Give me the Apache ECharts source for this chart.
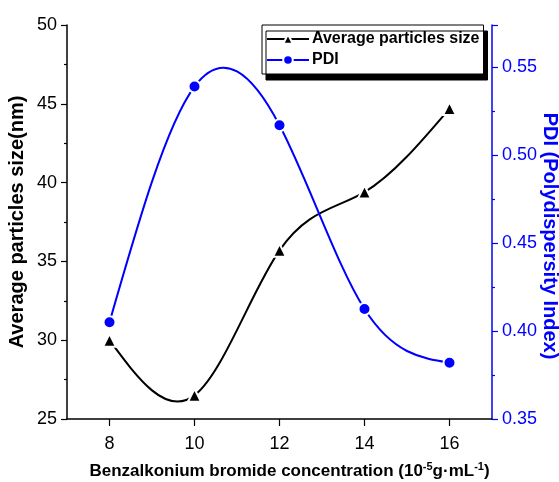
<!DOCTYPE html>
<html>
<head>
<meta charset="utf-8">
<script src="https://cdn.jsdelivr.net/npm/echarts@6/dist/echarts.min.js"></script>
<style>html,body{margin:0;padding:0;background:#fff}#c{width:559px;height:482px}</style>
</head>
<body>
<div id="c"></div>
<script>
// ---- data ----
var concentrations = [8, 10, 12, 14, 16];
var avgSize = [30.0, 26.5, 35.7, 39.4, 44.7];
var pdi = [0.405, 0.539, 0.517, 0.4125, 0.382];
var xTicks = [8, 10, 12, 14, 16];
var seriesNames = ['Average particles size', 'PDI'];

var FONT = '"Liberation Sans", Arial, sans-serif';
var chart = echarts.init(document.getElementById('c'), null, {renderer: 'canvas'});

function pairs(xs, ys) { return xs.map(function (x, i) { return [x, ys[i]]; }); }

// natural cubic spline slopes (like Origin's spline connection)
function splineSlopes(xs, ys) {
  var n = xs.length, M = new Array(n).fill(0);
  if (n > 2) {
    var a = [], b = [], c = [], d = [];
    for (var i = 1; i < n - 1; i++) {
      var h0 = xs[i] - xs[i - 1], h1 = xs[i + 1] - xs[i];
      a.push(h0); b.push(2 * (h0 + h1)); c.push(h1);
      d.push(6 * ((ys[i + 1] - ys[i]) / h1 - (ys[i] - ys[i - 1]) / h0));
    }
    var m = b.length;
    for (var k = 1; k < m; k++) {
      var w = a[k] / b[k - 1];
      b[k] -= w * c[k - 1]; d[k] -= w * d[k - 1];
    }
    var sol = new Array(m);
    sol[m - 1] = d[m - 1] / b[m - 1];
    for (var k2 = m - 2; k2 >= 0; k2--) sol[k2] = (d[k2] - c[k2] * sol[k2 + 1]) / b[k2];
    for (var j = 0; j < m; j++) M[j + 1] = sol[j];
  }
  var s = [];
  for (var q = 0; q < n; q++) {
    if (q < n - 1) {
      var h = xs[q + 1] - xs[q];
      s.push((ys[q + 1] - ys[q]) / h - h * (2 * M[q] + M[q + 1]) / 6);
    } else {
      var hh = xs[q] - xs[q - 1];
      s.push((ys[q] - ys[q - 1]) / hh + hh * (M[q - 1] + 2 * M[q]) / 6);
    }
  }
  return s;
}

function splineSeries(xs, ys, axisIdx, color) {
  var slopes = splineSlopes(xs, ys);
  return {
    type: 'custom', yAxisIndex: axisIdx, silent: true, z: 1,
    data: pairs(xs, ys),
    encode: {x: 0, y: 1},
    renderItem: function (params, api) {
      var i = params.dataIndex;
      if (i >= xs.length - 1) return null;
      var h = xs[i + 1] - xs[i];
      var p0 = api.coord([xs[i], ys[i]]);
      var p1 = api.coord([xs[i] + h / 3, ys[i] + slopes[i] * h / 3]);
      var p2 = api.coord([xs[i + 1] - h / 3, ys[i + 1] - slopes[i + 1] * h / 3]);
      var p3 = api.coord([xs[i + 1], ys[i + 1]]);
      return {
        type: 'bezierCurve',
        shape: {x1: p0[0], y1: p0[1], cpx1: p1[0], cpy1: p1[1], cpx2: p2[0], cpy2: p2[1], x2: p3[0], y2: p3[1]},
        style: {stroke: color, lineWidth: 2, fill: null}
      };
    }
  };
}

chart.setOption({
  animation: false,
  backgroundColor: '#fff',
  grid: {left: 67, right: 67, top: 25, bottom: 63, containLabel: false, outerBoundsMode: 'none'},
  legend: {
    orient: 'vertical',
    left: 262, top: 25,
    padding: [6, 4, 6, 4],
    itemWidth: 42, itemHeight: 12, itemGap: 5,
    backgroundColor: '#fff',
    borderColor: '#000', borderWidth: 1,
    shadowColor: '#000', shadowBlur: 0, shadowOffsetX: 4, shadowOffsetY: 6,
    textStyle: {fontFamily: FONT, fontWeight: 'bold', fontSize: 16, color: '#000', padding: [0,0,0,-2]},
    data: [
      {name: seriesNames[0], lineStyle: {color: '#000', width: 2, opacity: 1}},
      {name: seriesNames[1], lineStyle: {color: '#0000ff', width: 2, opacity: 1}}
    ]
  },
  xAxis: {
    type: 'value', min: 7, max: 17,
    name: '{n|Benzalkonium bromide concentration (10}{s|-5}{n|g·mL}{s|-1}{n|)}',
    nameLocation: 'middle', nameGap: 42, nameMoveOverlap: false,
    nameTextStyle: {
      padding: [0, 0, 0, 20],
      rich: {
        n: {fontFamily: FONT, fontWeight: 'bold', fontSize: 17, color: '#000'},
        s: {fontFamily: FONT, fontWeight: 'bold', fontSize: 11, color: '#000', verticalAlign: 'bottom', padding: [0, 0, 9, 0]}
      }
    },
    axisLine: {lineStyle: {color: '#000', width: 1.5}},
    axisTick: {length: 7, lineStyle: {color: '#000', width: 1.2}, customValues: xTicks},
    axisLabel: {fontFamily: FONT, fontSize: 18, color: '#000', margin: 16, customValues: xTicks},
    splitLine: {show: false}
  },
  yAxis: [{
    type: 'value', min: 25, max: 50, interval: 5, position: 'left',
    name: 'Average particles size(nm)', nameLocation: 'middle', nameGap: 40, nameMoveOverlap: false,
    nameTextStyle: {fontFamily: FONT, fontWeight: 'bold', fontSize: 20, color: '#000'},
    axisLine: {show: true, lineStyle: {color: '#000', width: 1.5}},
    axisTick: {show: true, length: 6, lineStyle: {color: '#000', width: 1.2}},
    minorTick: {show: true, splitNumber: 2, length: 3, lineStyle: {color: '#000', width: 1.2}},
    axisLabel: {fontFamily: FONT, fontSize: 18, color: '#000', margin: 10},
    splitLine: {show: false}
  }, {
    type: 'value', min: 0.35, max: 0.574, interval: 0.05, position: 'right',
    name: 'PDI (Polydispersity Index)', nameLocation: 'middle', nameGap: 48, nameRotate: -90, nameMoveOverlap: false,
    nameTextStyle: {fontFamily: FONT, fontWeight: 'bold', fontSize: 20, color: '#0000ff', padding: [0, 0, 0, 28]},
    axisLine: {show: true, lineStyle: {color: '#0000ff', width: 1.5}},
    axisTick: {show: true, length: 6, lineStyle: {color: '#0000ff', width: 1.2}},
    minorTick: {show: true, splitNumber: 2, length: 3, lineStyle: {color: '#0000ff', width: 1.2}},
    axisLabel: {fontFamily: FONT, fontSize: 18, color: '#0000ff', margin: 10, showMaxLabel: false,
      formatter: function (v) { return v.toFixed(2); }},
    splitLine: {show: false}
  }],
  series: [
    splineSeries(concentrations, avgSize, 0, '#000'),
    splineSeries(concentrations, pdi, 1, '#0000ff'),
  {
    name: seriesNames[0], type: 'line', yAxisIndex: 0, z: 3,
    data: pairs(concentrations, avgSize),
    symbol: 'triangle', symbolSize: 13,
    lineStyle: {color: '#000', width: 2, opacity: 0},
    itemStyle: {color: '#000', borderColor: '#fff', borderWidth: 2}
  }, {
    name: seriesNames[1], type: 'line', yAxisIndex: 1, z: 3,
    data: pairs(concentrations, pdi),
    symbol: 'circle', symbolSize: 12,
    lineStyle: {color: '#0000ff', width: 2, opacity: 0},
    itemStyle: {color: '#0000ff', borderColor: '#fff', borderWidth: 2}
  }]
});
</script>
</body>
</html>
